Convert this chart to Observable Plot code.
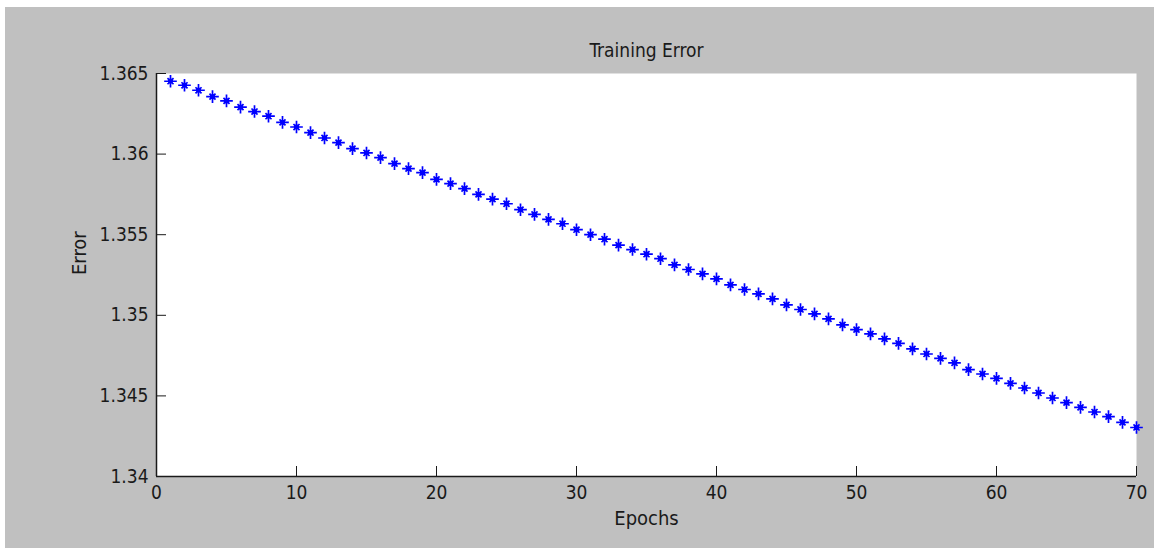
<!DOCTYPE html>
<html>
<head>
<meta charset="utf-8">
<script src="https://cdn.jsdelivr.net/npm/d3@7"></script>
<script src="https://cdn.jsdelivr.net/npm/@observablehq/plot@0.6"></script>
<style>
  html, body { margin: 0; padding: 0; background: #ffffff; width: 1157px; height: 548px; overflow: hidden; }
  #panel { position: absolute; left: 5px; top: 7px; width: 1149px; height: 541px; background: #c0c0c0; }
  #panel svg { display: block; }
</style>
</head>
<body>
<div id="panel"></div>
<script>
// ---- data ----
const epochs = [1,2,3,4,5,6,7,8,9,10,11,12,13,14,15,16,17,18,19,20,
  21,22,23,24,25,26,27,28,29,30,31,32,33,34,35,36,37,38,39,40,
  41,42,43,44,45,46,47,48,49,50,51,52,53,54,55,56,57,58,59,60,
  61,62,63,64,65,66,67,68,69,70];
const errors = [1.36452,1.36427,1.36396,1.36357,1.36330,1.36291,1.36264,1.36235,1.36197,1.36168,
  1.36133,1.36100,1.36071,1.36034,1.36007,1.35978,1.35941,1.35910,1.35885,1.35843,
  1.35817,1.35786,1.35750,1.35721,1.35692,1.35655,1.35626,1.35595,1.35568,1.35531,
  1.35500,1.35472,1.35435,1.35408,1.35379,1.35351,1.35313,1.35284,1.35257,1.35226,
  1.35189,1.35160,1.35133,1.35102,1.35065,1.35036,1.35009,1.34978,1.34941,1.34911,
  1.34885,1.34854,1.34826,1.34792,1.34760,1.34733,1.34705,1.34663,1.34636,1.34609,
  1.34578,1.34549,1.34518,1.34487,1.34458,1.34429,1.34400,1.34371,1.34336,1.34304];
const xTicks = [0,10,20,30,40,50,60,70];
const yTicks = [1.34,1.345,1.35,1.355,1.36,1.365];
const xDomain = [0,70];
const yDomain = [1.34,1.365];
const titleText = "Training Error";
const xLabel = "Epochs";
const yLabel = "Error";

const data = epochs.map((e,i) => ({epoch: e, error: errors[i]}));

// MATLAB-like '*' marker: plus with short diagonals and a centre dot
const matlabStar = {
  draw(context, size) {
    const r = Math.sqrt(size / Math.PI);
    const a = r * 1.15, b = r * 0.55, c = r * 0.33;
    context.moveTo(-a, 0); context.lineTo(a, 0);
    context.moveTo(0, -a); context.lineTo(0, a);
    context.moveTo(-b, -b); context.lineTo(b, b);
    context.moveTo(-b, b); context.lineTo(b, -b);
    context.moveTo(c, 0); context.arc(0, 0, c, 0, 2 * Math.PI);
  }
};

const font = '"Liberation Sans Narrow", "DejaVu Sans Condensed", "Liberation Sans", sans-serif';
const ink = "#1a1a1a";

const chart = Plot.plot({
  width: 1149,
  height: 541,
  marginLeft: 151,
  marginRight: 18,
  marginTop: 66,
  marginBottom: 72,
  style: { background: "#c0c0c0", fontFamily: font, fontSize: "19px", color: ink },
  x: { domain: xDomain, label: null },
  y: { domain: yDomain, label: null },
  marks: [
    Plot.frame({ fill: "white", stroke: null }),
    Plot.axisX({ ticks: xTicks, tickSize: 0, tickPadding: 9, tickFormat: d => String(d), fontSize: 19, label: null }),
    Plot.axisX({ ticks: xTicks, tickSize: -10, text: null, stroke: ink, label: null }),
    Plot.axisY({ ticks: yTicks, tickSize: 0, tickPadding: 8, tickFormat: d => String(+d.toFixed(3)), fontSize: 19, label: null }),
    Plot.axisY({ ticks: yTicks, tickSize: -10, text: null, stroke: ink, label: null }),
    Plot.ruleX([xDomain[0]], { stroke: ink, strokeWidth: 1.5 }),
    Plot.ruleY([yDomain[0]], { stroke: ink, strokeWidth: 1.5 }),
    Plot.dot(data, { x: "epoch", y: "error", symbol: matlabStar, r: 5.5, stroke: "#0000ff", fill: "#0000ff", strokeWidth: 1.7 }),
    Plot.text([titleText], { frameAnchor: "top", lineAnchor: "middle", dy: -23, fontSize: 19, fill: ink }),
    Plot.text([xLabel], { frameAnchor: "bottom", lineAnchor: "middle", dy: 42, fontSize: 20, fill: ink }),
    Plot.text([yLabel], { frameAnchor: "left", lineAnchor: "middle", dx: -77, rotate: -90, fontSize: 20, fill: ink })
  ]
});
document.getElementById("panel").appendChild(chart);
</script>
</body>
</html>
